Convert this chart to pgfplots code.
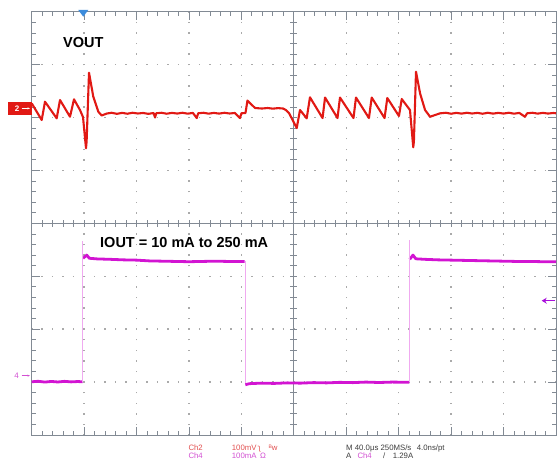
\documentclass[border=0pt]{standalone}
\usepackage{pgfplots}
\pgfplotsset{compat=1.18}
\usepackage{fontspec}
\setmainfont{Liberation Sans}
\newfontfamily\dejavu{DejaVu Sans}
\usetikzlibrary{arrows.meta}

\definecolor{chtwo}{RGB}{225,25,20}
\definecolor{chfour}{RGB}{210,20,210}
\definecolor{edgefour}{RGB}{240,170,240}
\definecolor{framec}{RGB}{130,138,148}
\definecolor{gridc}{RGB}{170,170,170}
\definecolor{txtred}{RGB}{225,80,80}
\definecolor{txtmag}{RGB}{210,80,210}
\definecolor{txtdark}{RGB}{60,60,60}
\definecolor{trigblue}{RGB}{60,140,220}

\begin{document}
\begin{tikzpicture}[x=1pt,y=1pt]
\path[use as bounding box] (0,0) rectangle (558,464);

% graticule: 10 x 8 divisions
\def\gl{31.7}\def\gr{556}\def\gb{29}\def\gt{452.3}
\def\dx{52.43}\def\dy{52.9}
\foreach \i in {1,2,3,4,6,7,8,9}
  \draw[gridc, line width=1.4pt, dash pattern=on 1.4pt off 9.18pt, dash phase=0.7pt]
    ({\gl+\i*\dx},\gb) -- ({\gl+\i*\dx},\gt);
\foreach \j in {1,2,3,5,6,7}
  \draw[gridc, line width=1.4pt, dash pattern=on 1.4pt off 9.086pt, dash phase=0.7pt]
    (\gl,{\gb+\j*\dy}) -- (\gr,{\gb+\j*\dy});
\begin{scope}[framec, line width=0.9pt]
  \draw (\gl,\gb) rectangle (\gr,\gt);
  \draw (\gl,{\gb+4*\dy}) -- (\gr,{\gb+4*\dy});
  \draw ({\gl+5*\dx},\gb) -- ({\gl+5*\dx},\gt);
  \foreach \k in {1,...,49}{
    \draw ({\gl+\k*\dx/5},\gb) -- ++(0,4);
    \draw ({\gl+\k*\dx/5},\gt) -- ++(0,-4);
    \draw ({\gl+\k*\dx/5},{\gb+4*\dy-3.5}) -- ++(0,7);
  }
  \foreach \k in {1,...,39}{
    \draw (\gl,{\gb+\k*\dy/5}) -- ++(4,0);
    \draw (\gr,{\gb+\k*\dy/5}) -- ++(-4,0);
    \draw ({\gl+5*\dx-3.5},{\gb+\k*\dy/5}) -- ++(7,0);
  }
  \foreach \i in {1,...,9}{
    \draw ({\gl+\i*\dx},\gb) -- ++(0,8);
    \draw ({\gl+\i*\dx},\gt) -- ++(0,-8);
  }
  \foreach \j in {1,...,7}{
    \draw (\gl,{\gb+\j*\dy}) -- ++(8,0);
    \draw (\gr,{\gb+\j*\dy}) -- ++(-8,0);
  }
\end{scope}

\begin{axis}[at={(31.7pt,29pt)}, anchor=south west, scale only axis,
    width=524.3pt, height=423.3pt,
    xmin=0, xmax=400, ymin=-4, ymax=4,
    hide axis, clip=false]

% Ch2 VOUT (100 mV/div), x in us, y in divisions
\addplot[chtwo, line width=2.1pt, line join=round] coordinates {
 (0,2.268) (7.63,1.953) (10.15,2.299) (19.07,1.985) (21.59,2.331) (29.22,2.015)
 (32.27,2.344) (36.85,2.142) (39.14,2.008) (41.43,1.418) (41.9,1.55) (43.72,2.847)
 (47.0,2.393) (50.81,2.110) (53.40,2.038) (57.22,2.075)
 (61,2.09) (65,2.07) (69,2.088) (73,2.072) (77,2.09) (81,2.076) (85,2.086) (89,2.07)
 (93,2.085) (94.1,2.0) (95,2.08) (99,2.09) (103,2.072) (107,2.088) (111,2.075)
 (115,2.09) (119,2.073) (123,2.087) (125.9,1.99) (127,2.08) (131,2.09) (135,2.073)
 (139,2.088) (143,2.074) (147,2.09) (151,2.076) (155,2.086) (158.9,1.99) (160,2.08)
 (163.1,2.085) (164.6,2.321) (166.5,2.274) (170.4,2.180) (175.7,2.170) (180,2.18)
 (184,2.168) (188,2.178) (191.9,2.170) (194.0,2.14) (196.3,2.085) (202.2,1.801)
 (204.7,2.142) (209.8,1.985) (212.3,2.382)
 (221.9,1.990) (223.8,2.378) (233.3,1.990) (235.2,2.378) (245.5,1.990) (247.4,2.378)
 (257.3,1.990) (259.4,2.378) (269.2,1.990) (271.3,2.369) (280.2,2.028) (282.3,2.350)
 (288.6,2.142) (291.1,1.437) (291.6,1.55) (293.2,2.866) (296.3,2.457) (300.1,2.142)
 (303.9,2.015) (307.7,2.047) (311.5,2.079) (316,2.09) (320,2.072) (324,2.088)
 (328,2.074) (332,2.09) (336,2.076) (340,2.088) (344,2.072) (348,2.09) (352,2.074)
 (356,2.088) (360,2.075) (364,2.09) (368,2.073) (372,2.087) (376.3,2.015) (378,2.08)
 (382,2.09) (386,2.074) (390,2.088) (394,2.075) (398,2.086) (400,2.08)
};

% Ch4 IOUT (100 mA/div): levels
\addplot[chfour, line width=2.8pt] coordinates {
 (0,-2.994) (5,-2.985) (10,-3.0) (15,-2.988) (20,-2.998) (25,-2.986) (30,-2.996)
 (35,-2.99) (38.9,-2.994)
};
\addplot[chfour, line width=2.8pt, line join=round] coordinates {
 (39.2,-0.66) (42,-0.60) (44,-0.66) (50,-0.672) (60,-0.68) (70,-0.69) (80,-0.695)
 (90,-0.71) (100,-0.715) (110,-0.72) (120,-0.725) (130,-0.72) (140,-0.715)
 (150,-0.72) (162.4,-0.72)
};
\addplot[chfour, line width=2.8pt] coordinates {
 (163,-3.05) (166,-3.03) (175,-3.02) (185,-3.025) (195,-3.015) (205,-3.02)
 (215,-3.01) (225,-3.015) (235,-3.005) (245,-3.01) (255,-3.0) (265,-3.008)
 (275,-3.0) (288.1,-3.004)
};
\addplot[chfour, line width=2.8pt, line join=round] coordinates {
 (288.4,-0.68) (290.9,-0.60) (293,-0.67) (300,-0.68) (310,-0.69) (320,-0.695)
 (330,-0.70) (340,-0.705) (350,-0.71) (360,-0.715) (370,-0.72) (380,-0.72)
 (390,-0.725) (400,-0.726)
};
% Ch4 fast edges
\addplot[edgefour, line width=0.9pt] coordinates {(38.9,-2.994) (38.9,-0.335)};
\addplot[edgefour, line width=0.9pt] coordinates {(162.7,-0.72) (162.7,-3.02)};
\addplot[edgefour, line width=0.9pt] coordinates {(288.1,-3.004) (288.1,-0.316)};
\end{axis}

% channel markers
\fill[chtwo] (8.3,349) rectangle (31.7,362.3);
\node[white, font=\fontsize{8}{8}\selectfont\bfseries, inner sep=0] at (17,355.6) {2};
\draw[white, line width=0.8pt, -{Stealth[length=2.5pt]}] (21.5,355.6) -- (30,355.6);
\node[txtmag, font=\fontsize{8}{8}\selectfont, inner sep=0] at (16.5,88.3) {4};
\draw[txtmag, line width=0.8pt, -{Stealth[length=2.5pt]}] (21.5,88.3) -- (30,88.3);
\fill[trigblue] (78.3,454) -- (88.3,454) -- (83.3,447.3) -- cycle;
\draw[chfour!80!blue, line width=1.6pt, -{Stealth[length=5pt, width=6pt]}] (555,163.3) -- (541.7,163.3);

% trace labels
\node[anchor=west, inner sep=0, font=\fontsize{14.5}{17}\selectfont\bfseries] at (63,421) {VOUT};
\node[anchor=west, inner sep=0, font=\fontsize{14.5}{17}\selectfont\bfseries] at (100,221.5) {IOUT = 10 mA to 250 mA};

% scope readout
\begin{scope}[every node/.style={anchor=base west, inner sep=0, font=\fontsize{7.8}{9}\selectfont}]
\node[txtred] at (188.3,13.5) {Ch2};
\node[txtred] at (231.7,13.5) {100mV};
\node[txtred] at (257.3,13.5) {\dejavu ʅ};
\node[txtred] at (268.3,13.5) {\raisebox{1.5pt}{\fontsize{5}{5}\selectfont B}w};
\node[txtdark] at (346,13.5) {M 40.0μs 250MS/s};
\node[txtdark] at (416.7,13.5) {4.0ns/pt};
\node[txtmag] at (188.3,5.5) {Ch4};
\node[txtmag] at (231.7,5.5) {100mA};
\node[txtmag] at (260,5.5) {Ω};
\node[txtdark] at (346,5.5) {A};
\node[txtmag] at (357.3,5.5) {Ch4};
\node[txtdark] at (383,5.5) {/};
\node[txtdark] at (392.7,5.5) {1.29A};
\end{scope}
\end{tikzpicture}
\end{document}
